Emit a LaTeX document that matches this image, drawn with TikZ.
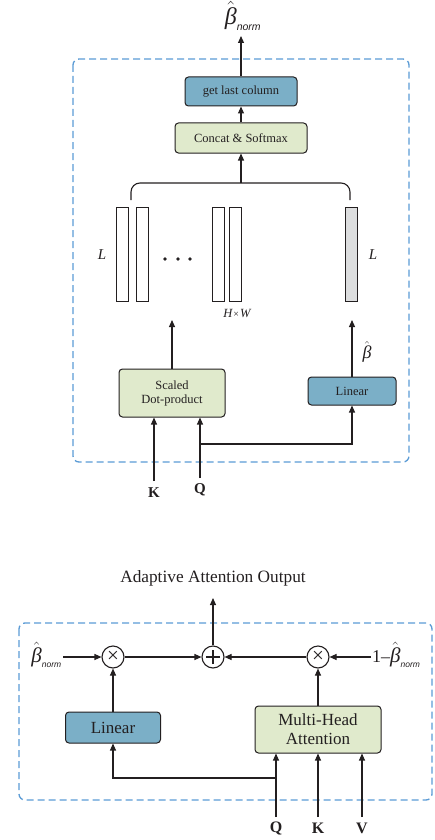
\documentclass[tikz,border=0pt]{standalone}
\usepackage{fontspec}
\setmainfont{Liberation Serif}
\newfontfamily\subsf{Liberation Sans}
\usetikzlibrary{arrows.meta}
\definecolor{ink}{HTML}{231F20}
\definecolor{bluefill}{HTML}{7BAFC7}
\definecolor{greenfill}{HTML}{E0EACC}
\definecolor{grayfill}{HTML}{DCDDDE}
\definecolor{dashblue}{HTML}{5B9BD5}
\newcommand{\betahat}{\ensuremath{\hat{\hbox{\itshape β}}}}
\newcommand{\betanorm}[1]{\ensuremath{\hat{\hbox{\itshape β}}_{\hbox{\subsf\itshape\fontsize{#1}{#1}\selectfont norm}}}}
\tikzset{
  box/.style={draw=ink, line width=1pt, rounded corners=3.5pt, align=center, inner sep=0pt, text=ink},
  bluebox/.style={box, fill=bluefill},
  greenbox/.style={box, fill=greenfill},
  bar/.style={draw=ink, line width=0.9pt, minimum width=12pt, minimum height=94pt, inner sep=0pt},
  arr/.style={draw=ink, line width=1.1pt, -{Triangle[length=7pt,width=6pt]}},
  ln/.style={draw=ink, line width=1.1pt},
  frame/.style={draw=dashblue, line width=1.3pt, dash pattern=on 7pt off 4pt, rounded corners=6pt},
  opcirc/.style={circle, draw=ink, line width=1.1pt, minimum size=22pt, inner sep=0pt, fill=white},
  lbl/.style={text=ink, inner sep=1pt}
}
\begin{document}
\begin{tikzpicture}[x=1pt,y=-1pt]
\useasboundingbox (0,0) rectangle (434,840);
% ---------- top part ----------
\draw[frame] (73,59) rectangle (409,462);
\node[lbl, font=\fontsize{24}{26}\selectfont] (bnormtop) at (243,16) {\betanorm{10.5}};
\coordinate (topout) at (241,36);
\node[bluebox, minimum width=112pt, minimum height=29pt, font=\fontsize{12.5}{14}\selectfont] (glc) at (241,91.5) {get last column};
\node[greenbox, minimum width=132pt, minimum height=30pt, font=\fontsize{12.5}{14}\selectfont] (cs) at (241,138) {Concat \& Softmax};
\draw[arr] (glc.north) -- (topout);
\draw[arr] (cs.north) -- (glc.south);
% brace
\coordinate (bl) at (131,200);
\coordinate (br) at (350,200);
\coordinate (bm) at (241,183);
\draw[ln, rounded corners=9pt] (bl) -- (131,183) -- (350,183) -- (br);
\draw[arr] (bm) -- (cs.south);
% bars
\node[bar] (b1) at (122,254) {};
\node[bar] (b2) at (142,254) {};
\node[bar] (b3) at (218,254) {};
\node[bar] (b4) at (235,254) {};
\node[bar, fill=grayfill] (b5) at (351,254) {};
\node[lbl, font=\fontsize{15}{17}\selectfont\itshape] (L1) at (102,255) {L};
\node[lbl, font=\fontsize{15}{17}\selectfont\itshape] (L2) at (373,255) {L};
\fill[ink] (165,259) circle (1.8pt) (178,259) circle (1.8pt) (190,259) circle (1.8pt);
\node[lbl, font=\fontsize{12.5}{14}\selectfont\itshape] (hw) at (237,313) {H\kern1pt{\upshape\fontsize{10}{10}\selectfont ×}\kern1pt W};
% lower boxes
\node[greenbox, minimum width=106pt, minimum height=48pt, font=\fontsize{12.5}{14}\selectfont] (sdp) at (172,393) {Scaled\\Dot-product};
\node[bluebox, minimum width=88pt, minimum height=28pt, font=\fontsize{12.5}{14}\selectfont] (lin1) at (352,391) {Linear};
\coordinate (sdpout) at (172,320);
\coordinate (linout) at (352,320);
\draw[arr] (sdp.north) -- (sdpout);
\draw[arr] (lin1.north) -- (linout);
\node[lbl, font=\fontsize{18}{20}\selectfont] (bhat) at (367,352) {\betahat};
% inputs
\coordinate (kin) at (154,481);
\coordinate (qin) at (200,478);
\coordinate (qj) at (200,444);
\node[lbl, font=\fontsize{15}{17}\selectfont\bfseries] (Ktop) at (154,493) {K};
\node[lbl, font=\fontsize{15}{17}\selectfont\bfseries] (Qtop) at (200,490) {Q};
\draw[arr] (kin) -- (sdp.south -| kin);
\draw[arr] (qin) -- (sdp.south -| qin);
\draw[arr] (qj) -| (lin1.south);
% ---------- bottom part ----------
\node[lbl, font=\fontsize{17.3}{19}\selectfont] (title) at (213,578) {Adaptive Attention Output};
\draw[frame] (19,623) rectangle (432,800);
\node[opcirc] (mulL) at (113,657) {};
\node[lbl, font=\fontsize{21}{21}\selectfont] at (mulL) {×};
\node[opcirc] (plus) at (213,657) {};
\draw[ln] ([xshift=-7pt]plus.center) -- ([xshift=7pt]plus.center);
\draw[ln] ([yshift=-7pt]plus.center) -- ([yshift=7pt]plus.center);
\node[opcirc] (mulR) at (318,657) {};
\node[lbl, font=\fontsize{21}{21}\selectfont] at (mulR) {×};
\coordinate (bout) at (213,598);
\draw[arr] (plus.north) -- (bout);
\node[lbl, font=\fontsize{21}{23}\selectfont, anchor=east] (bnL) at (63,655) {\betanorm{8.5}};
\node[lbl, font=\fontsize{21}{23}\selectfont, anchor=west] (bnR) at (371,655) {{\fontsize{18}{20}\selectfont 1–}\betanorm{8.5}};
\draw[arr] (bnL.east |- mulL) -- (mulL.west);
\draw[arr] (mulL.east) -- (plus.west);
\draw[arr] (mulR.west) -- (plus.east);
\draw[arr] (bnR.west |- mulR) -- (mulR.east);
\node[bluebox, minimum width=95pt, minimum height=31pt, font=\fontsize{17}{19}\selectfont] (lin2) at (113,727.5) {Linear};
\node[greenbox, minimum width=126pt, minimum height=47pt, font=\fontsize{17}{19}\selectfont] (mha) at (318,729.5) {Multi-Head\\Attention};
\draw[arr] (lin2.north) -- (mulL.south);
\draw[arr] (mha.north) -- (mulR.south);
\coordinate (q2) at (276,817);
\coordinate (k2) at (318,817);
\coordinate (v2) at (362,817);
\coordinate (qj2) at (276,778);
\node[lbl, font=\fontsize{16}{18}\selectfont\bfseries] (Qb) at (276,828) {Q};
\node[lbl, font=\fontsize{16}{18}\selectfont\bfseries] (Kb) at (318,828) {K};
\node[lbl, font=\fontsize{16}{18}\selectfont\bfseries] (Vb) at (362,828) {V};
\draw[arr] (q2) -- (mha.south -| q2);
\draw[arr] (k2) -- (mha.south -| k2);
\draw[arr] (v2) -- (mha.south -| v2);
\draw[arr] (qj2) -| (lin2.south);
\end{tikzpicture}
\end{document}
